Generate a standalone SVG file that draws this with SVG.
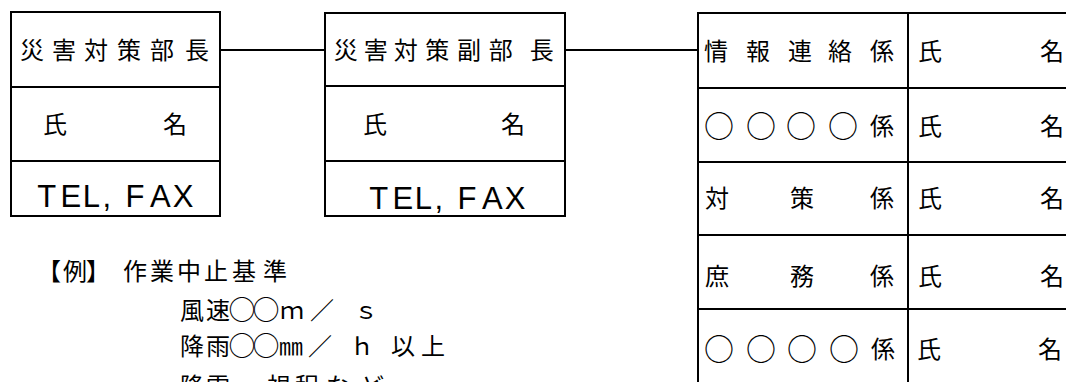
<svg xmlns="http://www.w3.org/2000/svg" width="1066" height="382" viewBox="0 0 1066 382">
<style>
.bg{fill:#ffffff}
.box{fill:none;stroke:#000;stroke-width:2}
.ln{stroke:#000;stroke-width:2;fill:none}
.jp{font-family:"Noto Sans CJK JP","Noto Sans CJK SC",sans-serif;font-size:24px;fill:#000;text-anchor:middle}
.mk{font-family:"Noto Sans CJK JP","Noto Sans CJK SC",sans-serif;font-size:30px;fill:#000;text-anchor:middle}
.mks{font-family:"Noto Sans CJK JP","Noto Sans CJK SC",sans-serif;font-size:27px;fill:#000;text-anchor:middle}
.lat{font-family:"Liberation Sans",Arial,sans-serif;font-size:31px;fill:#000}
</style>
<rect class="bg" x="0" y="0" width="1066" height="382"/>

<g id="connectors">
<line class="ln" x1="220" y1="50" x2="325" y2="50"/>
<line class="ln" x1="565" y1="50" x2="698" y2="50"/>
</g>

<g id="bucho">
<rect class="box" x="11" y="12" width="209" height="204"/>
<line class="ln" x1="11" y1="87" x2="220" y2="87"/>
<line class="ln" x1="11" y1="161" x2="220" y2="161"/>
<text class="jp" x="32 64 96 129 162 197" y="59">災害対策部長</text>
<text class="jp" x="55 175" y="133">氏名</text>
<text class="lat" x="37.3 60.5 82.7 102.5 115 125.5 150 172.7" y="207">TEL, FAX</text>
</g>

<g id="fukubucho">
<rect class="box" x="325" y="13" width="240" height="203"/>
<line class="ln" x1="325" y1="86" x2="565" y2="86"/>
<line class="ln" x1="325" y1="161" x2="565" y2="161"/>
<text class="jp" x="345.7 375.7 405.7 437.3 469 500.7 541.7" y="59">災害対策副部長</text>
<text class="jp" x="375 513" y="133">氏名</text>
<text class="lat" x="369.3 392.5 414.7 434.5 447 457.5 482 504.7" y="209">TEL, FAX</text>
</g>

<g id="kakari">
<line class="ln" x1="698" y1="13" x2="698" y2="384"/>
<line class="ln" x1="908" y1="13" x2="908" y2="384"/>
<line class="ln" x1="697" y1="13" x2="1068" y2="13"/>
<line class="ln" x1="698" y1="88" x2="1068" y2="88"/>
<line class="ln" x1="698" y1="162" x2="1068" y2="162"/>
<line class="ln" x1="698" y1="235" x2="1068" y2="235"/>
<line class="ln" x1="698" y1="309" x2="1068" y2="309"/>
<g id="row-joho">
<text class="jp" x="716 758 800 840 882" y="60">情報連絡係</text>
<text class="jp" x="930 1052" y="60">氏名</text>
</g>
<g id="row-maru1">
<text class="mk" x="719 761 801 843" y="137">○○○○</text>
<text class="jp" x="882" y="135">係</text>
<text class="jp" x="930 1052" y="135">氏名</text>
</g>
<g id="row-taisaku">
<text class="jp" x="717 802 882" y="207">対策係</text>
<text class="jp" x="930 1052" y="207">氏名</text>
</g>
<g id="row-shomu">
<text class="jp" x="717 802 882" y="285">庶務係</text>
<text class="jp" x="930 1052" y="285">氏名</text>
</g>
<g id="row-maru2">
<text class="mk" x="719 761 802 844" y="360">○○○○</text>
<text class="jp" x="883" y="358">係</text>
<text class="jp" x="929 1050" y="358">氏名</text>
</g>
</g>

<g id="note">
<text class="jp" x="49 75 98 135 162 189 216 244 275" y="280">【例】作業中止基準</text>
<text class="jp" x="192 218" y="319">風速</text>
<text class="mks" x="242 266" y="320">○○</text>
<text class="jp" x="292 322 366" y="319">ｍ／ｓ</text>
<text class="jp" x="192 218" y="355">降雨</text>
<text class="mks" x="242 266" y="356">○○</text>
<text class="jp" x="291 320 362 403 433" y="355">㎜／ｈ以上</text>
<text class="jp" x="192 218 248 279 307 338 372" y="395">降雪　視程など</text>
</g>
</svg>
